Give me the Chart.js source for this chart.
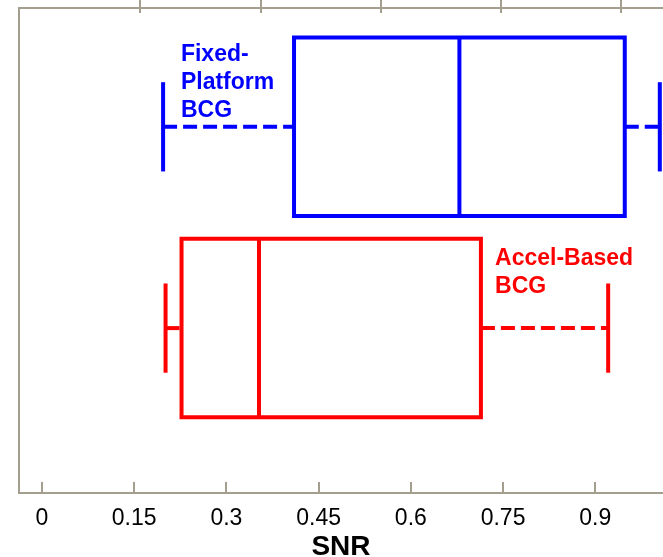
<!DOCTYPE html>
<html>
<head>
<meta charset="utf-8">
<script src="https://cdn.jsdelivr.net/npm/chart.js@4/dist/chart.umd.min.js"></script>
<style>
  html, body { margin: 0; padding: 0; background: #ffffff; }
  #wrap { width: 663px; height: 557px; }
</style>
</head>
<body>
<div id="wrap"><canvas id="snrChart" width="663" height="557"></canvas></div>
<script>
// SNR distribution for the two BCG recording setups
const groupNames   = [['Fixed-', 'Platform', 'BCG'], ['Accel-Based', 'BCG']];
const groupColors  = ['#0000ff', '#ff0000'];
const whiskerLow   = [0.197, 0.201];
const quartile1    = [0.410, 0.227];
const medians      = [0.679, 0.353];
const quartile3    = [0.948, 0.714];
const whiskerHigh  = [1.005, 0.921];
const snrTicks     = [0, 0.15, 0.3, 0.45, 0.6, 0.75, 0.9];
const topTicks     = [1, 2, 3, 4, 5];

// layout of the rows on the vertical 0..10 scale
const rowCenter   = [7.55, 3.40];
const boxHalf     = 1.84;
const capHalf     = 0.92;
const labelAnchor = [[0.226, 8.907], [0.737, 4.701]];

const FONT  = "'Liberation Sans', Arial, Helvetica, sans-serif";
const FRAME = '#a39e8e';
const AXIS_MIN = -0.0374, AXIS_MAX = 1.0102;

function seg(points, color, extra) {
  return Object.assign({
    data: points.map(([x, y]) => ({ x, y })),
    showLine: true,
    borderColor: color,
    backgroundColor: color,
    borderWidth: 4,
    pointRadius: 0,
    tension: 0,
    fill: false,
    borderCapStyle: 'butt',
    borderJoinStyle: 'miter'
  }, extra || {});
}

const datasets = [];
groupNames.forEach((_, i) => {
  const c = rowCenter[i], col = groupColors[i];
  const top = c + boxHalf, bot = c - boxHalf;
  datasets.push(seg([[quartile1[i], top], [quartile3[i], top], [quartile3[i], bot], [quartile1[i], bot], [quartile1[i], top]], col, { borderCapStyle: 'square' }));
  datasets.push(seg([[medians[i], top], [medians[i], bot]], col));
  datasets.push(seg([[whiskerLow[i], c], [quartile1[i], c]], col, { borderDash: [14, 6] }));
  datasets.push(seg([[quartile3[i], c], [whiskerHigh[i], c]], col, { borderDash: [14, 6] }));
  datasets.push(seg([[whiskerLow[i], c - capHalf], [whiskerLow[i], c + capHalf]], col));
  datasets.push(seg([[whiskerHigh[i], c - capHalf], [whiskerHigh[i], c + capHalf]], col));
});

// tick marks that cross into the plot frame, and the group captions
const decorations = {
  id: 'decorations',
  afterDraw(chart) {
    const { ctx, chartArea, scales } = chart;
    ctx.save();
    ctx.strokeStyle = FRAME;
    ctx.lineWidth = 2;
    ctx.beginPath();
    scales.x.ticks.forEach(t => {
      const px = Math.round(scales.x.getPixelForValue(t.value));
      ctx.moveTo(px, chartArea.bottom - 11);
      ctx.lineTo(px, chartArea.bottom);
    });
    scales.xTop.ticks.forEach(t => {
      const px = Math.round(scales.xTop.getPixelForValue(t.value));
      ctx.moveTo(px, 0);
      ctx.lineTo(px, chartArea.top + 5);
    });
    ctx.stroke();

    ctx.font = 'bold 23px ' + FONT;
    ctx.textAlign = 'left';
    ctx.textBaseline = 'alphabetic';
    groupNames.forEach((lines, i) => {
      ctx.fillStyle = groupColors[i];
      const x = scales.x.getPixelForValue(labelAnchor[i][0]);
      const y = scales.y.getPixelForValue(labelAnchor[i][1]);
      lines.forEach((s, k) => ctx.fillText(s, x, y + k * 28));
    });
    ctx.restore();
  }
};

new Chart(document.getElementById('snrChart'), {
  type: 'scatter',
  data: { datasets },
  plugins: [decorations],
  options: {
    responsive: false,
    animation: false,
    layout: { padding: { left: 19, top: 8, right: 0, bottom: 0 } },
    plugins: { legend: { display: false }, tooltip: { enabled: false } },
    scales: {
      x: {
        type: 'linear', position: 'bottom', min: AXIS_MIN, max: AXIS_MAX,
        afterBuildTicks: s => { s.ticks = snrTicks.map(v => ({ value: v })); },
        afterFit: s => { s.height = 64; },
        ticks: { font: { family: FONT, size: 23 }, color: '#000', padding: 12, maxRotation: 0, autoSkip: false,
                 callback: v => String(v) },
        grid: { drawOnChartArea: false, drawTicks: false },
        border: { display: true, color: FRAME, width: 2 },
        title: { display: true, text: 'SNR', color: '#000', font: { family: FONT, size: 28, weight: 'bold', lineHeight: 0.72 },
                 padding: { top: 0, bottom: 0 } }
      },
      xTop: {
        type: 'linear', position: 'top', min: -0.01, max: 5.35,
        afterBuildTicks: s => { s.ticks = topTicks.map(v => ({ value: v })); },
        afterFit: s => { s.height = 0; },
        ticks: { display: false },
        grid: { drawOnChartArea: false, drawTicks: false },
        border: { display: true, color: FRAME, width: 2 }
      },
      y: {
        type: 'linear', position: 'left', min: 0, max: 10,
        afterFit: s => { s.width = 0; },
        ticks: { display: false },
        grid: { drawOnChartArea: false, drawTicks: false },
        border: { display: true, color: FRAME, width: 2 }
      }
    }
  }
});
</script>
</body>
</html>
